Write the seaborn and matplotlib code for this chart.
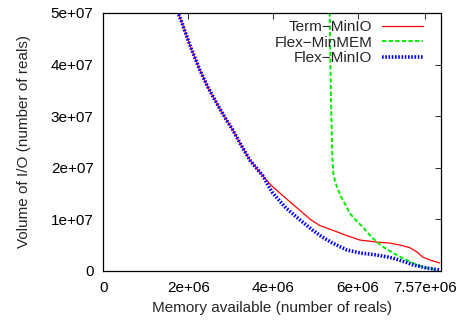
import matplotlib
matplotlib.use("Agg")
import matplotlib.pyplot as plt
import seaborn as sns
import pandas as pd

# Data (x in number of reals, y in number of reals)
shared_x = [1.60e6, 1.76e6, 1.83e6, 2.05e6, 2.27e6, 2.47e6, 2.67e6, 2.86e6, 3.05e6, 3.25e6, 3.45e6, 3.62e6, 3.76e6]
shared_y = [5.40e7, 5.00e7, 4.86e7, 4.35e7, 3.90e7, 3.55e7, 3.25e7, 2.98e7, 2.73e7, 2.43e7, 2.15e7, 1.98e7, 1.84e7]

term_x = shared_x + [3.84e6, 3.99e6, 4.45e6, 4.89e6, 5.10e6, 5.40e6, 5.72e6, 6.04e6, 6.44e6, 6.75e6, 7.00e6, 7.22e6, 7.40e6, 7.52e6, 7.70e6, 7.92e6]
term_y = shared_y + [1.76e7, 1.63e7, 1.30e7, 0.99e7, 0.88e7, 0.79e7, 0.69e7, 0.60e7, 0.56e7, 0.54e7, 0.50e7, 0.45e7, 0.36e7, 0.27e7, 0.21e7, 0.155e7]

flexio_x = shared_x + [3.88e6, 3.99e6, 4.30e6, 4.63e6, 4.93e6, 5.15e6, 5.40e6, 5.73e6, 6.04e6, 6.44e6, 6.82e6, 7.05e6, 7.29e6, 7.60e6, 7.92e6]
flexio_y = shared_y + [1.66e7, 1.51e7, 1.22e7, 0.99e7, 0.79e7, 0.66e7, 0.54e7, 0.41e7, 0.35e7, 0.31e7, 0.25e7, 0.19e7, 0.12e7, 0.06e7, 0.02e7]

flexmem_x = [5.32e6, 5.33e6, 5.36e6, 5.39e6, 5.41e6, 5.45e6, 5.50e6, 5.60e6, 5.73e6, 5.80e6, 5.95e6, 6.11e6, 6.27e6, 6.44e6, 6.62e6, 6.82e6, 7.05e6, 7.29e6, 7.55e6, 7.85e6]
flexmem_y = [5.50e7, 5.00e7, 3.31e7, 2.30e7, 1.92e7, 1.76e7, 1.63e7, 1.43e7, 1.24e7, 1.12e7, 0.98e7, 0.85e7, 0.70e7, 0.56e7, 0.45e7, 0.35e7, 0.25e7, 0.155e7, 0.07e7, 0.02e7]

series_names = ["Term\u2212MinIO", "Flex\u2212MinMEM", "Flex\u2212MinIO"]
xtick_vals = [0, 2e6, 4e6, 6e6, 7.57e6]
xtick_labels = ["0", "2e+06", "4e+06", "6e+06", "7.57e+06"]
ytick_vals = [0, 1e7, 2e7, 3e7, 4e7, 5e7]
ytick_labels = ["0", "1e+07", "2e+07", "3e+07", "4e+07", "5e+07"]

sns.set_style("white")
plt.rcParams['font.family'] = ['Liberation Sans', 'DejaVu Sans']

fig = plt.figure(figsize=(4.63, 3.24), dpi=100)
ax = fig.add_axes([0.2231, 0.1636, 0.7294, 0.7963])

df_term = pd.DataFrame({"x": term_x, "y": term_y})
df_mem = pd.DataFrame({"x": flexmem_x, "y": flexmem_y})
df_io = pd.DataFrame({"x": flexio_x, "y": flexio_y})

sns.lineplot(data=df_term, x="x", y="y", ax=ax, color="#ff0000", linewidth=0.9,
             label=series_names[0], sort=False, estimator=None)
sns.lineplot(data=df_mem, x="x", y="y", ax=ax, color="#00ee00", linewidth=1.4,
             label=series_names[1], sort=False, estimator=None)
sns.lineplot(data=df_io, x="x", y="y", ax=ax, color="#0000ff", linewidth=2.6,
             label=series_names[2], sort=False, estimator=None)
lines = ax.get_lines()
lines[1].set_linestyle((0, (2.2, 1.2)))
lines[2].set_linestyle((0, (0.45, 0.45)))

ax.set_xlim(0, 7.95e6)
ax.set_ylim(0, 5e7)
ax.set_xticks(xtick_vals)
ax.set_xticklabels(xtick_labels)
ax.set_yticks(ytick_vals)
ax.set_yticklabels(ytick_labels)
ax.tick_params(direction="in", length=4, width=0.6, top=True, right=True,
               labelsize=11, colors="black", pad=7)
for s in ax.spines.values():
    s.set_visible(True)
    s.set_color("black")
    s.set_linewidth(0.9)

ax.set_xlabel("Memory available (number of reals)", fontsize=11)
ax.set_ylabel("Volume of I/O (number of reals)", fontsize=11)
ax.xaxis.set_label_coords(0.5, -0.118)
ax.yaxis.set_label_coords(-0.213, 0.5)

leg = ax.legend(loc="upper right", frameon=False, markerfirst=False, fontsize=11,
                handlelength=2.65, handletextpad=0.65, labelspacing=0.1,
                borderaxespad=0.0, borderpad=0.0, bbox_to_anchor=(0.9466, 0.972))

fig.savefig("out.png", dpi=100)
